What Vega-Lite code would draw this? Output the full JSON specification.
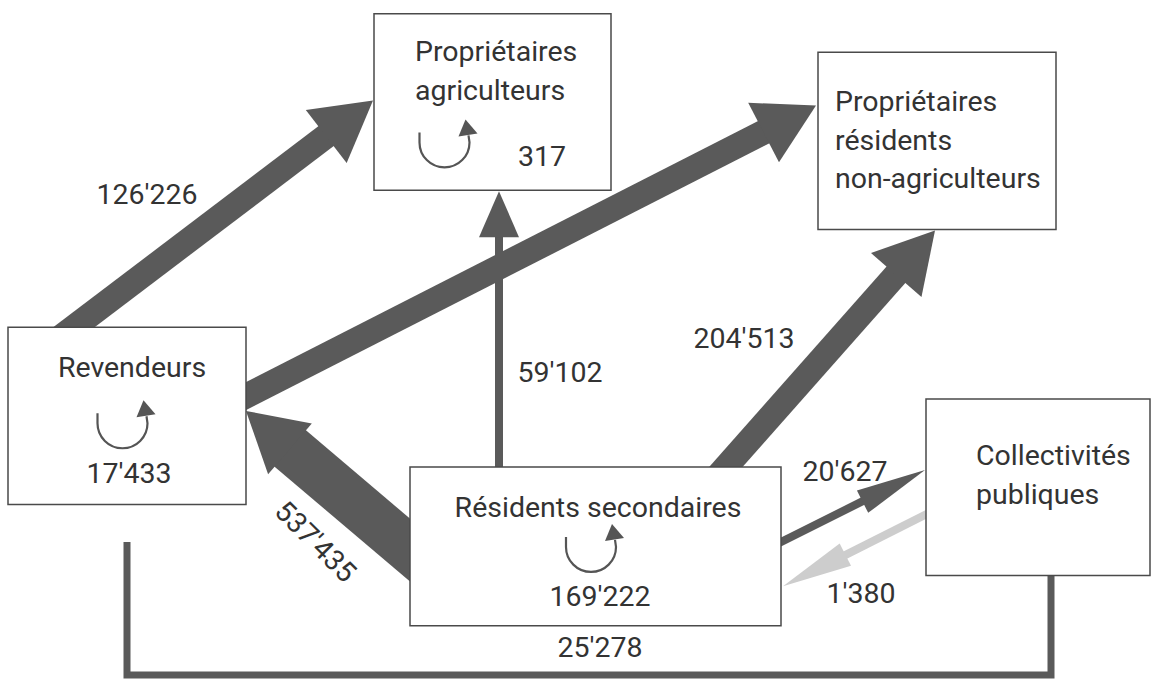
{
  "$schema": "https://vega.github.io/schema/vega-lite/v6.json",
  "width": 1153,
  "height": 689,
  "padding": 0,
  "autosize": {"type": "fit", "contains": "padding"},
  "background": "#ffffff",
  "config": {
    "view": {"stroke": null},
    "text": {"font": "Roboto", "fontSize": 28.5, "fontWeight": 400, "color": "#333333"}
  },
  "datasets": {
    "noeuds": [
      {"id": "A", "nom": "Propriétaires\nagriculteurs", "x": 374, "x2": 611, "y": 14, "y2": 193, "lx": 415, "ly": 62},
      {"id": "B", "nom": "Propriétaires\nrésidents\nnon-agriculteurs", "x": 818, "x2": 1056, "y": 53, "y2": 233, "lx": 835, "ly": 113},
      {"id": "C", "nom": "Revendeurs", "x": 8, "x2": 246, "y": 332, "y2": 512, "lx": 132, "ly": 383},
      {"id": "D", "nom": "Résidents secondaires", "x": 410, "x2": 781, "y": 474, "y2": 635, "lx": 598, "ly": 525},
      {"id": "E", "nom": "Collectivités\npubliques", "x": 926, "x2": 1150, "y": 405, "y2": 584, "lx": 976, "ly": 472}
    ],
    "internes": [
      {"noeud": "Propriétaires agriculteurs", "valeur": "317", "cx": 444.5, "cy": 144.5, "x": 542, "y": 168},
      {"noeud": "Revendeurs", "valeur": "17'433", "cx": 122.5, "cy": 429.5, "x": 129, "y": 490},
      {"noeud": "Résidents secondaires", "valeur": "169'222", "cx": 591, "cy": 555, "x": 600, "y": 615}
    ],
    "flux": [
      {"de": "Revendeurs", "vers": "Propriétaires agriculteurs", "valeur": "126'226", "classe": "moyen", "x": 37.6, "y": 360, "x2": 373, "y2": 102, "tx": 147, "ty": 207},
      {"de": "Revendeurs", "vers": "Propriétaires résidents non-agriculteurs", "valeur": "", "classe": "moyen", "x": 216, "y": 417.5, "x2": 816, "y2": 107, "tx": 0, "ty": 0},
      {"de": "Résidents secondaires", "vers": "Propriétaires agriculteurs", "valeur": "59'102", "classe": "faible", "x": 499, "y": 490, "x2": 499, "y2": 194, "tx": 560, "ty": 388},
      {"de": "Résidents secondaires", "vers": "Propriétaires résidents non-agriculteurs", "valeur": "204'513", "classe": "moyen", "x": 703, "y": 500, "x2": 935, "y2": 234, "tx": 744, "ty": 353},
      {"de": "Résidents secondaires", "vers": "Revendeurs", "valeur": "537'435", "classe": "large", "x": 440, "y": 584, "x2": 246, "y2": 417, "tx": 315, "ty": 550},
      {"de": "Résidents secondaires", "vers": "Collectivités publiques", "valeur": "20'627", "classe": "tres_faible", "x": 760, "y": 560.6, "x2": 925, "y2": 477, "tx": 845, "ty": 488},
      {"de": "Collectivités publiques", "vers": "Résidents secondaires", "valeur": "1'380", "classe": "tres_faible", "x": 950, "y": 509.7, "x2": 783, "y2": 595, "tx": 861, "ty": 612}
    ],
    "lien": [
      {"de": "Collectivités publiques", "vers": "Revendeurs", "ordre": 1, "x": 127, "y": 550},
      {"de": "Collectivités publiques", "vers": "Revendeurs", "ordre": 2, "x": 127, "y": 685},
      {"de": "Collectivités publiques", "vers": "Revendeurs", "ordre": 3, "x": 1051, "y": 685},
      {"de": "Collectivités publiques", "vers": "Revendeurs", "ordre": 4, "x": 1051, "y": 570}
    ],
    "etiquette_lien": [
      {"valeur": "25'278", "x": 600, "y": 667}
    ]
  },
  "layer": [
    {
      "data": {"name": "lien"},
      "mark": {"type": "line", "color": "#5a5a5a", "strokeWidth": 7, "strokeCap": "butt", "strokeJoin": "miter"},
      "encoding": {
        "x": {"field": "x", "type": "quantitative", "scale": {"domain": [0, 1153], "nice": false, "zero": false}, "axis": null},
        "y": {"field": "y", "type": "quantitative", "scale": {"domain": [0, 689], "nice": false, "zero": false, "reverse": true}, "axis": null},
        "order": {"field": "ordre", "type": "quantitative"}
      }
    },
    {
      "data": {"name": "flux"},
      "transform": [
        {"calculate": "atan2(datum.y2 - datum.y, datum.x2 - datum.x)", "as": "ang"},
        {"calculate": "datum.classe === 'faible' ? 40 : datum.classe === 'tres_faible' ? 62 : 52", "as": "hl"},
        {"calculate": "datum.x2 - datum.hl * cos(datum.ang)", "as": "xs"},
        {"calculate": "datum.y2 - datum.hl * sin(datum.ang)", "as": "ys"}
      ],
      "mark": {"type": "rule", "strokeCap": "butt"},
      "encoding": {
        "x": {"field": "x", "type": "quantitative", "scale": {"domain": [0, 1153], "nice": false, "zero": false}, "axis": null},
        "y": {"field": "y", "type": "quantitative", "scale": {"domain": [0, 689], "nice": false, "zero": false, "reverse": true}, "axis": null},
        "x2": {"field": "xs"},
        "y2": {"field": "ys"},
        "strokeWidth": {"field": "classe", "type": "nominal", "scale": {"type": "ordinal", "domain": ["large", "moyen", "faible", "tres_faible"], "range": [48, 25, 8, 8]}, "legend": null},
        "color": {"condition": {"test": "datum.valeur === \"1'380\"", "value": "#cdcdcd"}, "value": "#5a5a5a"}
      }
    },
    {
      "data": {"name": "flux"},
      "transform": [
        {"calculate": "atan2(datum.y2 - datum.y, datum.x2 - datum.x) * 180 / PI", "as": "angdeg"}
      ],
      "mark": {"type": "point", "filled": true, "size": 4, "opacity": 1, "strokeWidth": 0},
      "encoding": {
        "x": {"field": "x2", "type": "quantitative", "scale": {"domain": [0, 1153], "nice": false, "zero": false}, "axis": null},
        "y": {"field": "y2", "type": "quantitative", "scale": {"domain": [0, 689], "nice": false, "zero": false, "reverse": true}, "axis": null},
        "shape": {"field": "classe", "type": "nominal", "scale": {"domain": ["large", "moyen", "faible", "tres_faible"], "range": ["M0,0L-58,-33.5L-58,33.5Z", "M0,0L-59,-33.5L-59,33.5Z", "M0,0L-46,-20L-46,20Z", "M0,0L-70,-12.5L-70,12.5Z"]}, "legend": null},
        "angle": {"field": "angdeg", "type": "quantitative", "scale": null},
        "color": {"condition": {"test": "datum.valeur === \"1'380\"", "value": "#cdcdcd"}, "value": "#5a5a5a"}
      }
    },
    {
      "data": {"name": "noeuds"},
      "mark": {"type": "rect", "fill": "#ffffff", "stroke": "#4a4a4a", "strokeWidth": 1.5},
      "encoding": {
        "x": {"field": "x", "type": "quantitative", "scale": {"domain": [0, 1153], "nice": false, "zero": false}, "axis": null},
        "y": {"field": "y", "type": "quantitative", "scale": {"domain": [0, 689], "nice": false, "zero": false, "reverse": true}, "axis": null},
        "x2": {"field": "x2"},
        "y2": {"field": "y2"}
      }
    },
    {
      "data": {"name": "internes"},
      "mark": {"type": "point", "shape": "M-25,-10L-25,0A25,25 0 0 0 25,0L24,-7", "filled": false, "size": 4, "color": "#555555", "strokeWidth": 2.2, "opacity": 1},
      "encoding": {
        "x": {"field": "cx", "type": "quantitative", "scale": {"domain": [0, 1153], "nice": false, "zero": false}, "axis": null},
        "y": {"field": "cy", "type": "quantitative", "scale": {"domain": [0, 689], "nice": false, "zero": false, "reverse": true}, "axis": null}
      }
    },
    {
      "data": {"name": "internes"},
      "mark": {"type": "point", "shape": "M21,-23L14,-6L33,-9Z", "filled": true, "size": 4, "color": "#555555", "strokeWidth": 0, "opacity": 1},
      "encoding": {
        "x": {"field": "cx", "type": "quantitative", "scale": {"domain": [0, 1153], "nice": false, "zero": false}, "axis": null},
        "y": {"field": "cy", "type": "quantitative", "scale": {"domain": [0, 689], "nice": false, "zero": false, "reverse": true}, "axis": null}
      }
    },
    {
      "data": {"name": "noeuds"},
      "transform": [{"filter": {"field": "id", "oneOf": ["A", "B", "E"]}}],
      "mark": {"type": "text", "align": "left", "baseline": "alphabetic", "lineBreak": "\n", "lineHeight": 38.5},
      "encoding": {
        "x": {"field": "lx", "type": "quantitative", "scale": {"domain": [0, 1153], "nice": false, "zero": false}, "axis": null},
        "y": {"field": "ly", "type": "quantitative", "scale": {"domain": [0, 689], "nice": false, "zero": false, "reverse": true}, "axis": null},
        "text": {"field": "nom", "type": "nominal"}
      }
    },
    {
      "data": {"name": "noeuds"},
      "transform": [{"filter": {"field": "id", "oneOf": ["C", "D"]}}],
      "mark": {"type": "text", "align": "center", "baseline": "alphabetic", "lineBreak": "\n", "lineHeight": 38.5},
      "encoding": {
        "x": {"field": "lx", "type": "quantitative", "scale": {"domain": [0, 1153], "nice": false, "zero": false}, "axis": null},
        "y": {"field": "ly", "type": "quantitative", "scale": {"domain": [0, 689], "nice": false, "zero": false, "reverse": true}, "axis": null},
        "text": {"field": "nom", "type": "nominal"}
      }
    },
    {
      "data": {"name": "internes"},
      "mark": {"type": "text", "align": "center", "baseline": "alphabetic"},
      "encoding": {
        "x": {"field": "x", "type": "quantitative", "scale": {"domain": [0, 1153], "nice": false, "zero": false}, "axis": null},
        "y": {"field": "y", "type": "quantitative", "scale": {"domain": [0, 689], "nice": false, "zero": false, "reverse": true}, "axis": null},
        "text": {"field": "valeur", "type": "nominal"}
      }
    },
    {
      "data": {"name": "flux"},
      "transform": [{"filter": "datum.valeur !== '' && datum.valeur !== \"537'435\""}],
      "mark": {"type": "text", "align": "center", "baseline": "alphabetic"},
      "encoding": {
        "x": {"field": "tx", "type": "quantitative", "scale": {"domain": [0, 1153], "nice": false, "zero": false}, "axis": null},
        "y": {"field": "ty", "type": "quantitative", "scale": {"domain": [0, 689], "nice": false, "zero": false, "reverse": true}, "axis": null},
        "text": {"field": "valeur", "type": "nominal"}
      }
    },
    {
      "data": {"name": "flux"},
      "transform": [{"filter": "datum.valeur === \"537'435\""}],
      "mark": {"type": "text", "align": "center", "baseline": "middle", "angle": 45},
      "encoding": {
        "x": {"field": "tx", "type": "quantitative", "scale": {"domain": [0, 1153], "nice": false, "zero": false}, "axis": null},
        "y": {"field": "ty", "type": "quantitative", "scale": {"domain": [0, 689], "nice": false, "zero": false, "reverse": true}, "axis": null},
        "text": {"field": "valeur", "type": "nominal"}
      }
    },
    {
      "data": {"name": "etiquette_lien"},
      "mark": {"type": "text", "align": "center", "baseline": "alphabetic"},
      "encoding": {
        "x": {"field": "x", "type": "quantitative", "scale": {"domain": [0, 1153], "nice": false, "zero": false}, "axis": null},
        "y": {"field": "y", "type": "quantitative", "scale": {"domain": [0, 689], "nice": false, "zero": false, "reverse": true}, "axis": null},
        "text": {"field": "valeur", "type": "nominal"}
      }
    }
  ]
}
